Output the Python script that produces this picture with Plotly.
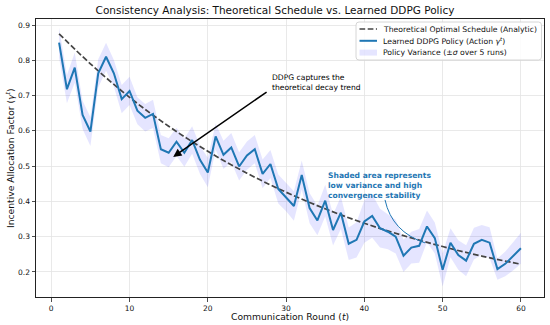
import plotly.graph_objects as go

# ---- data ----
rounds = list(range(1, 61))
policy = [0.850, 0.718, 0.779, 0.645, 0.598, 0.763, 0.810, 0.763, 0.690, 0.713,
          0.657, 0.637, 0.648, 0.548, 0.538, 0.569, 0.538, 0.574, 0.518, 0.482,
          0.584, 0.532, 0.553, 0.499, 0.530, 0.548, 0.478, 0.506, 0.435, 0.412,
          0.387, 0.475, 0.381, 0.346, 0.402, 0.319, 0.368, 0.280, 0.291, 0.343,
          0.359, 0.324, 0.314, 0.300, 0.246, 0.269, 0.274, 0.329, 0.296, 0.206,
          0.283, 0.248, 0.232, 0.280, 0.291, 0.283, 0.208, 0.223, 0.244, 0.267]
policy_std = [0.043, 0.040, 0.043, 0.040, 0.041, 0.040, 0.040, 0.038, 0.040, 0.040,
              0.038, 0.039, 0.040, 0.040, 0.041, 0.040, 0.040, 0.039, 0.040, 0.042,
              0.037, 0.040, 0.041, 0.040, 0.040, 0.040, 0.041, 0.040, 0.041, 0.040,
              0.042, 0.041, 0.043, 0.042, 0.045, 0.044, 0.046, 0.046, 0.050, 0.060,
              0.062, 0.055, 0.050, 0.048, 0.046, 0.045, 0.048, 0.045, 0.044, 0.047,
              0.041, 0.042, 0.044, 0.045, 0.042, 0.044, 0.030, 0.035, 0.040, 0.044]
theory_rounds = [1, 5, 10, 15, 20, 25, 30, 35, 40, 45, 50, 55, 60]
theory = [0.875, 0.790, 0.695, 0.613, 0.542, 0.480, 0.426, 0.379, 0.338, 0.303, 0.272, 0.245, 0.222]

x_ticks = [0, 10, 20, 30, 40, 50, 60]
y_ticks = [0.2, 0.3, 0.4, 0.5, 0.6, 0.7, 0.8, 0.9]

legend_labels = ["Theoretical Optimal Schedule (Analytic)",
                 "Learned DDPG Policy (Action <i>γ<sup>t</sup></i>)",
                 "Policy Variance (±<i>σ</i> over 5 runs)"]

FONT = "DejaVu Sans"
BLUE = "#1f77b4"
DASHC = "#444444"
FILLC = "rgba(0,0,255,0.10)"

W, H = 550, 325
ML, MR, MT, MB = 36, 6, 19, 28
PW, PH = W - ML - MR, H - MT - MB


def px2paper(px, py):
    return (px - ML) / PW, (H - MB - py) / PH


lower = [v - s for v, s in zip(policy, policy_std)]
upper = [v + s for v, s in zip(policy, policy_std)]

fig = go.Figure()
fig.add_trace(go.Scatter(x=rounds, y=lower, mode="lines", line=dict(width=0),
                         showlegend=False, hoverinfo="skip"))
fig.add_trace(go.Scatter(x=rounds, y=upper, mode="lines", line=dict(width=0),
                         fill="tonexty", fillcolor=FILLC, showlegend=False,
                         name=legend_labels[2]))
fig.add_trace(go.Scatter(x=theory_rounds, y=theory, mode="lines",
                         line=dict(color=DASHC, width=1.7, dash="5.7px,2.5px", shape="spline"),
                         name=legend_labels[0], showlegend=False))
fig.add_trace(go.Scatter(x=rounds, y=policy, mode="lines",
                         line=dict(color=BLUE, width=2.0),
                         name=legend_labels[1], showlegend=False))

axis_common = dict(showgrid=True, gridcolor="#e4e4e4", gridwidth=0.8, zeroline=False,
                   showline=True, mirror=True, linecolor="#222222", linewidth=1,
                   ticks="outside", ticklen=3.5, tickwidth=0.8, tickcolor="#222222",
                   automargin=False,
                   tickfont=dict(family=FONT, size=7.5, color="#111111"))

fig.update_layout(
    width=W, height=H,
    margin=dict(l=ML, r=MR, t=MT, b=MB, autoexpand=False),
    paper_bgcolor="white", plot_bgcolor="white",
    font=dict(family=FONT, color="#111111"),
    title=dict(text="Consistency Analysis: Theoretical Schedule vs. Learned DDPG Policy",
               font=dict(family=FONT, size=10.5, color="#111111"),
               x=0.5, xref="container", xanchor="center",
               y=1 - 10.5 / H, yref="container", yanchor="middle", automargin=False),
    xaxis=dict(range=[-1.95, 62.95], tickvals=x_ticks, **axis_common),
    yaxis=dict(range=[0.129, 0.917], tickvals=y_ticks, tickformat=".1f", **axis_common),
    showlegend=False,
)

# axis titles as annotations
fig.add_annotation(text="Communication Round (<i>t</i>)", xref="paper", yref="paper",
                   x=0.5, y=0, yshift=-19, showarrow=False, yanchor="middle",
                   font=dict(family=FONT, size=9.2, color="#111111"))
fig.add_annotation(text="Incentive Allocation Factor (<i>γ<sup>t</sup></i>)", xref="paper", yref="paper",
                   x=0, y=0.5, xshift=-26, showarrow=False, textangle=-90, xanchor="center",
                   font=dict(family=FONT, size=9.2, color="#111111"))

# black arrow
fig.add_annotation(x=15.58, y=0.526, ax=27.7, ay=0.713, xref="x", yref="y",
                   axref="x", ayref="y", text="", showarrow=True,
                   arrowhead=2, arrowsize=1.1, arrowwidth=1.5, arrowcolor="black")
fig.add_annotation(x=28.0, y=0.737, xref="x", yref="y", xanchor="left", yanchor="middle",
                   text="DDPG captures the<br>theoretical decay trend", align="left",
                   showarrow=False, font=dict(family=FONT, size=7.6, color="black"))

# blue note with curved connector
fig.add_annotation(x=35.1, y=0.445, xref="x", yref="y", xanchor="left", yanchor="middle",
                   text="<b>Shaded area represents<br>low variance and high<br>convergence stability</b>",
                   align="left", showarrow=False, font=dict(family=FONT, size=7.6, color=BLUE))
fig.add_shape(type="path", xref="x", yref="y",
              path="M 42.64,0.4042 Q 43.53,0.3136 47.75,0.2824",
              line=dict(color=BLUE, width=1))

# ---- legend box (drawn manually to match compact matplotlib legend) ----
bx0, by1 = px2paper(356, 22)
bx1, by0 = px2paper(541.5, 60)
rx, ry = 3 / PW, 3 / PH
box_path = (f"M {bx0+rx},{by1} L {bx1-rx},{by1} Q {bx1},{by1} {bx1},{by1-ry} "
            f"L {bx1},{by0+ry} Q {bx1},{by0} {bx1-rx},{by0} L {bx0+rx},{by0} "
            f"Q {bx0},{by0} {bx0},{by0+ry} L {bx0},{by1-ry} Q {bx0},{by1} {bx0+rx},{by1} Z")
fig.add_shape(type="path", xref="paper", yref="paper", path=box_path, layer="above",
              fillcolor="rgba(255,255,255,0.85)", line=dict(color="#cccccc", width=0.8))

rows_py = [29.0, 40.8, 52.6]
sx0, _ = px2paper(359.5, 0)
sx1, _ = px2paper(377, 0)
tx, _ = px2paper(380.5, 0)
for i, py in enumerate(rows_py):
    _, ry_ = px2paper(0, py)
    if i == 0:
        fig.add_shape(type="line", xref="paper", yref="paper", x0=sx0, x1=sx1, y0=ry_, y1=ry_,
                      layer="above", line=dict(color=DASHC, width=1.7, dash="5.7px,2.5px"))
    elif i == 1:
        fig.add_shape(type="line", xref="paper", yref="paper", x0=sx0, x1=sx1, y0=ry_, y1=ry_,
                      layer="above", line=dict(color=BLUE, width=2.0))
    else:
        hh = 3.0 / PH
        fig.add_shape(type="rect", xref="paper", yref="paper", x0=sx0, x1=sx1,
                      y0=ry_ - hh, y1=ry_ + hh, layer="above",
                      fillcolor=FILLC, line=dict(width=0))
    fig.add_annotation(text=legend_labels[i], xref="paper", yref="paper", x=tx, y=ry_,
                       xanchor="left", yanchor="middle", showarrow=False,
                       font=dict(family=FONT, size=7.7, color="#111111"))

fig.write_html("out.html",
               config={"displayModeBar": False, "staticPlot": True},
               post_script="document.body.style.margin='0';document.body.style.padding='0';"
                           "document.documentElement.style.overflow='hidden';")
